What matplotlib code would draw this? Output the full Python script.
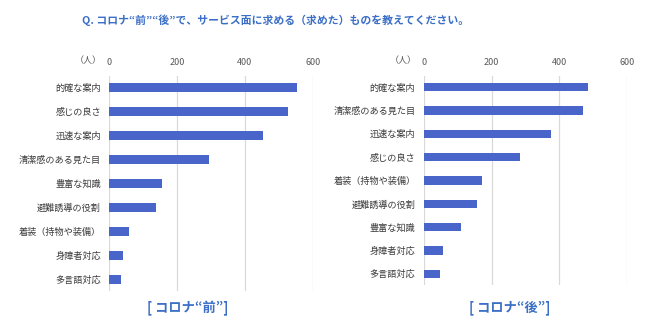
import matplotlib
matplotlib.use("Agg")
import matplotlib.pyplot as plt

plt.rcParams['font.family'] = ['Noto Sans CJK JP', 'DejaVu Sans']

before_labels = ["的確な案内", "感じの良さ", "迅速な案内", "清潔感のある見た目", "豊富な知識",
                 "避難誘導の役割", "着装（持物や装備）", "身障者対応", "多言語対応"]
before_values = [553, 528, 454, 294, 155, 137, 59, 41, 35]

after_labels = ["的確な案内", "清潔感のある見た目", "迅速な案内", "感じの良さ", "着装（持物や装備）",
                "避難誘導の役割", "豊富な知識", "身障者対応", "多言語対応"]
after_values = [485, 470, 376, 284, 173, 156, 110, 58, 47]

xticks = [0, 200, 400, 600]

title = "Q. コロナ“前”“後”で、サービス面に求める（求めた）ものを教えてください。"
sub_before = "[ コロナ“前”]"
sub_after = "[ コロナ“後”]"

bar_color = "#4A65C9"
blue_text = "#3B6FC6"
label_color = "#3A3A3A"
tick_color = "#595959"
grid_color = "#D9D9D9"

fig = plt.figure(figsize=(6.5, 3.3), dpi=100)

def draw(ax, labels, values):
    y = list(range(len(labels)))
    ax.barh(y, values, height=0.36, color=bar_color, zorder=3)
    ax.set_ylim(len(labels) - 0.5, -0.5)
    ax.set_xlim(0, 600)
    ax.set_xticks(xticks)
    ax.xaxis.tick_top()
    ax.tick_params(axis='x', length=0, labelsize=6.5, labelcolor=tick_color, pad=6)
    ax.set_yticks(y)
    ax.set_yticklabels(labels, fontsize=6.6, color=label_color)
    ax.tick_params(axis='y', length=0, pad=6)
    ax.grid(axis='x', color=grid_color, linewidth=0.9, zorder=0)
    for s in ax.spines.values():
        s.set_visible(False)
    h = ax.get_position().height * 330
    ax.text(-0.035, 1 + 14.5 / h, "（人）", transform=ax.transAxes, ha='right', va='center',
            fontsize=6.5, color=tick_color)

ax1 = fig.add_axes([0.1682, 0.1173, 0.3129, 0.6539])
draw(ax1, before_labels, before_values)
ax2 = fig.add_axes([0.6518, 0.1352, 0.3132, 0.636])
draw(ax2, after_labels, after_values)

fig.text(276 / 650, 1 - 20 / 330, title, ha='center', va='center', fontsize=7.8,
         fontweight='bold', color=blue_text)
fig.text(188 / 650, 1 - 308 / 330, sub_before, ha='center', va='center', fontsize=9.5,
         fontweight='bold', color=blue_text)
fig.text(510 / 650, 1 - 308 / 330, sub_after, ha='center', va='center', fontsize=9.5,
         fontweight='bold', color=blue_text)

fig.savefig("out.png", dpi=100)
